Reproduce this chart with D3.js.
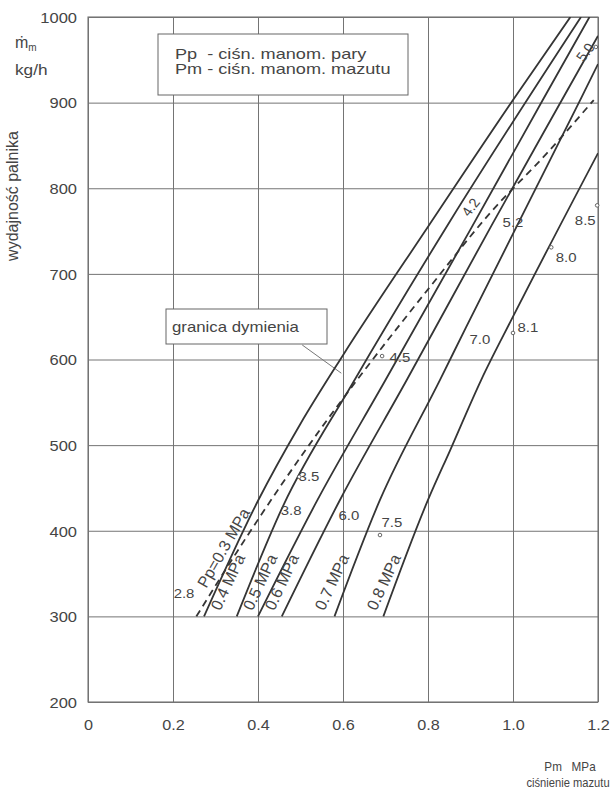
<!DOCTYPE html>
<html lang="pl">
<head>
<meta charset="UTF-8">
<title>Wydajność palnika</title>
<script src="https://d3js.org/d3.v7.min.js"></script>
<style>
  body { margin: 0; background: #fff; }
  svg { display: block; font-family: "Liberation Sans", Arial, "DejaVu Sans", sans-serif; }
  text { fill: #454545; white-space: pre; }
</style>
</head>
<body>
<svg id="chart" width="611" height="793"></svg>
<script>
// axis ticks
const pmTicks = [0, 0.2, 0.4, 0.6, 0.8, 1.0, 1.2];
const pmTickLabels = ["0", "0.2", "0.4", "0.6", "0.8", "1.0", "1.2"];
const mTicks = [200, 300, 400, 500, 600, 700, 800, 900, 1000];

// one curve per steam pressure Pp
const steamLabels = ["Pp=0.3 MPa", "0.4 MPa", "0.5 MPa", "0.6 MPa", "0.7 MPa", "0.8 MPa"];
const pm03 = [0.273, 0.40, 0.50, 0.60, 0.80, 1.00, 1.135];
const m03  = [300, 435, 525, 605, 755, 903, 1000];
const pm04 = [0.35, 0.46, 0.62, 0.85, 1.16];
const m04  = [300, 430, 570, 760, 1000];
const pm05 = [0.40, 0.54, 0.70, 0.90, 1.07, 1.18];
const m05  = [300, 436, 576, 752, 903, 1000];
const pm06 = [0.456, 0.595, 0.75, 0.95, 1.115, 1.20];
const m06  = [300, 438, 576, 757, 903, 978];
const pm07 = [0.58, 0.687, 0.828, 0.89, 1.158, 1.20];
const m07  = [300, 436, 576, 638, 903, 945];
const pm08 = [0.695, 0.80, 0.852, 0.925, 1.00, 1.20];
const m08  = [300, 436, 494, 576, 650, 841];

// granica dymienia (dashed)
const pmSmoke = [0.255, 0.35, 0.45, 0.546, 0.656, 0.805, 0.946, 1.08, 1.19];
const mSmoke  = [300, 375, 450, 518, 591, 685, 771, 841, 903];

// where the Pp labels sit
const labelPm = [0.319, 0.329, 0.405, 0.456, 0.574, 0.696];
const labelM  = [380, 340, 340, 340, 340, 340];

// small numbers written along the curves
const noteText  = ["2.8", "3.5", "3.8", "6.0", "7.5", "4.5", "7.0", "8.1", "4.2", "5.2", "8.0", "8.5", "5.0"];
const notePm    = [0.226, 0.52, 0.478, 0.614, 0.715, 0.734, 0.922, 1.035, 0.90, 1.00, 1.125, 1.17, 1.17];
const noteM     = [327, 463, 424, 418, 410, 602, 623, 637, 778, 760, 719, 762, 959];
const noteAngle = [0, 0, 0, 0, 0, 0, 0, 0, -55, 0, 0, 0, -55];
const dotPm = [0.497, 0.692, 0.687, 1.0, 1.09, 1.198, 1.195];
const dotM  = [463, 604, 395, 631, 731, 780, 965];

const svg = d3.select("#chart");
const x = d3.scaleLinear().domain([0, 1.2]).range([88, 598]);
const y = d3.scaleLinear().domain([200, 1000]).range([702, 17]);
const x0 = x(0), x1 = x(1.2), y0 = y(200), y1 = y(1000);

const ink = "#353535", grid = "#747474";

// horizontally stretched text like the scanned original
function label(g, px, py, s, o) {
  o = o || {};
  const t = g.append("text")
    .attr("transform", `translate(${px},${py}) scale(${o.sx || 1.2},1)` + (o.rot ? ` rotate(${o.rot})` : ""))
    .attr("text-anchor", o.anchor || "start")
    .attr("font-size", o.size || 14)
    .text(s);
  if (o.middle) t.attr("dominant-baseline", "central");
  return t;
}

// grid + tick labels through d3 axes
const gx = svg.append("g").attr("transform", `translate(0,${y0})`)
  .call(d3.axisBottom(x).tickValues(pmTicks).tickSize(-(y0 - y1)).tickFormat((d, i) => pmTickLabels[i]));
gx.select(".domain").remove();
gx.selectAll("line").attr("stroke", grid).attr("stroke-width", 1);
gx.selectAll("text").attr("y", 0).attr("dy", "0.35em").attr("font-size", 15)
  .attr("fill", "#454545").attr("transform", "translate(0,23) scale(1.08,1)");

const gy = svg.append("g").attr("transform", `translate(${x0},0)`)
  .call(d3.axisLeft(y).tickValues(mTicks).tickSize(-(x1 - x0)).tickFormat(d3.format("d")));
gy.select(".domain").remove();
gy.selectAll("line").attr("stroke", grid).attr("stroke-width", 1);
gy.selectAll("text").attr("x", 0).attr("dy", "0.35em").attr("font-size", 15)
  .attr("fill", "#454545").attr("transform", "translate(-11,0) scale(1.1,1)");

svg.append("rect").attr("x", x0).attr("y", y1).attr("width", x1 - x0).attr("height", y0 - y1)
  .attr("fill", "none").attr("stroke", grid).attr("stroke-width", 1.1);

// legend box
svg.append("rect").attr("x", 158).attr("y", 34).attr("width", 250).attr("height", 61)
  .attr("fill", "#fff").attr("stroke", "#666").attr("stroke-width", 1);
label(svg, 175, 59, "Pp  - ciśn. manom. pary", { size: 14.5, sx: 1.25 });
label(svg, 175, 74, "Pm - ciśn. manom. mazutu", { size: 14.5, sx: 1.25 });

// smoke limit callout
svg.append("rect").attr("x", 166).attr("y", 309).attr("width", 161).attr("height", 35)
  .attr("fill", "#fff").attr("stroke", "#666").attr("stroke-width", 1);
label(svg, 172, 332, "granica dymienia", { size: 14, sx: 1.2 });
svg.append("line").attr("x1", x(0.504)).attr("y1", y(617)).attr("x2", x(0.596)).attr("y2", y(584))
  .attr("stroke", "#777").attr("stroke-width", 1);

// curves
svg.append("clipPath").attr("id", "plot").append("rect")
  .attr("x", x0).attr("y", y1).attr("width", x1 - x0).attr("height", y0 - y1);
const line = d3.line().x(d => x(d[0])).y(d => y(d[1])).curve(d3.curveMonotoneX);
const curves = [[pm03, m03], [pm04, m04], [pm05, m05], [pm06, m06], [pm07, m07], [pm08, m08]]
  .map(([p, m]) => p.map((v, i) => [v, m[i]]));
const gc = svg.append("g").attr("clip-path", "url(#plot)");
gc.selectAll("path.pp").data(curves).join("path").attr("class", "pp")
  .attr("d", line).attr("fill", "none").attr("stroke", ink).attr("stroke-width", 1.8);
gc.append("path").datum(pmSmoke.map((v, i) => [v, mSmoke[i]]))
  .attr("d", line).attr("fill", "none").attr("stroke", ink).attr("stroke-width", 1.8)
  .attr("stroke-dasharray", "7,5");

// Pp labels along the lower ends
steamLabels.forEach((s, i) => {
  label(svg, x(labelPm[i]), y(labelM[i]), s, { size: 16, sx: 1, rot: i === 0 ? -60 : -65, anchor: "middle", middle: true });
});

// numbers and points
noteText.forEach((s, i) => {
  label(svg, x(notePm[i]), y(noteM[i]), s, { size: 13, sx: 1.15, rot: noteAngle[i], anchor: "middle", middle: true });
});
svg.selectAll("circle.pt").data(dotPm.map((v, i) => [v, dotM[i]])).join("circle").attr("class", "pt")
  .attr("cx", d => x(d[0])).attr("cy", d => y(d[1])).attr("r", 1.8)
  .attr("fill", "#fff").attr("stroke", "#555").attr("stroke-width", 0.9);

// axis titles
const mt = svg.append("text").attr("x", 15).attr("y", 48).attr("font-size", 16);
mt.append("tspan").text("ṁ");
mt.append("tspan").attr("font-size", 10).attr("dy", 3).text("m");
label(svg, 15, 75, "kg/h", { size: 15, sx: 1.15 });
svg.append("text").attr("transform", "translate(18,196) rotate(-90)")
  .attr("text-anchor", "middle").attr("font-size", 16).text("wydajność palnika");
label(svg, 570, 771, "Pm   MPa", { size: 13, sx: 0.9, anchor: "middle" });
label(svg, 568, 787, "ciśnienie mazutu", { size: 13, sx: 0.86, anchor: "middle" });
</script>
</body>
</html>
